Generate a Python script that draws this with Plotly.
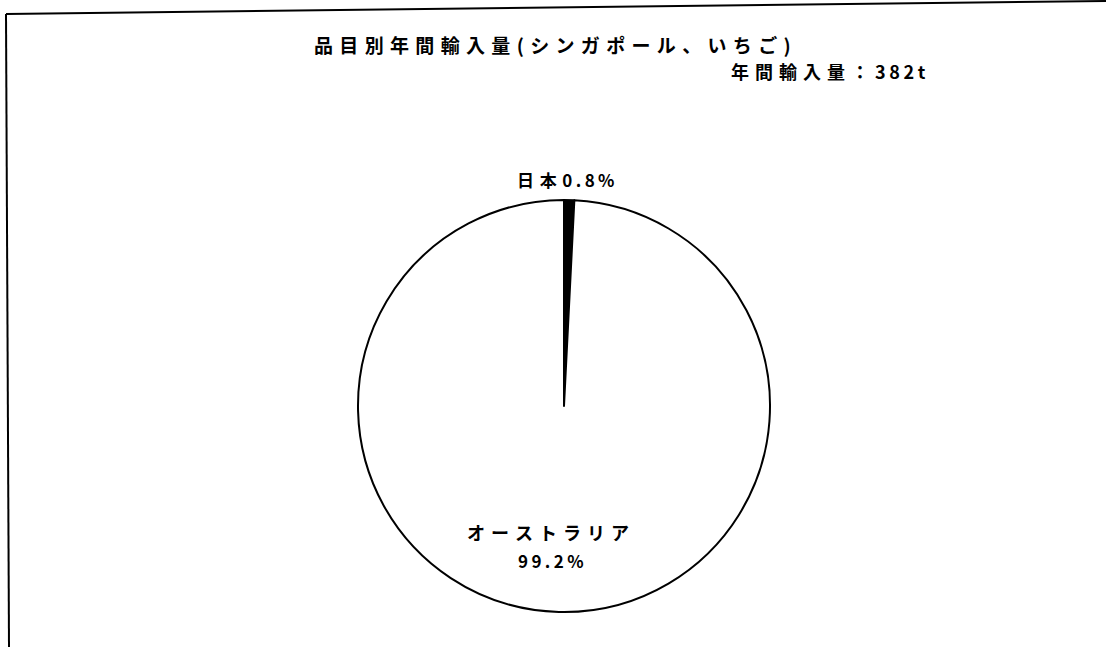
import plotly.graph_objects as go

countries = ["日本", "オーストラリア"]
shares = [0.8, 99.2]
slice_colors = ["#000000", "#ffffff"]

title_text = "品目別年間輸入量(シンガポール、いちご)"
total_text = "年間輸入量：382t"

font_jp = "Noto Sans CJK JP, Noto Sans, sans-serif"


def spaced(s):
    # the scanned chart uses wide letter spacing, tighter between half-width chars
    out = s[0]
    for a, b in zip(s, s[1:]):
        out += ("\u2009" if a.isascii() and b.isascii() else "\u2004") + b
    return out


fig = go.Figure()
fig.add_trace(go.Pie(
    labels=countries,
    values=shares,
    sort=False,
    direction="clockwise",
    rotation=0,
    marker=dict(colors=slice_colors, line=dict(color="#000000", width=2)),
    textinfo="none",
    hoverinfo="label+percent",
    showlegend=False,
    domain=dict(x=[358 / 1106, 770 / 1106], y=[1 - 612 / 647, 1 - 200 / 647]),
))


def note(x, y, text, size, xanchor="center"):
    fig.add_annotation(x=x / 1106, y=1 - y / 647, xref="paper", yref="paper",
                       xanchor=xanchor, yanchor="middle",
                       text=f"<b>{text}</b>", showarrow=False,
                       font=dict(family=font_jp, size=size, color="#000"))


# slice labels
note(566, 179, spaced(f"{countries[0]}{shares[0]:.1f}%"), 17)
note(548, 532, spaced(countries[1]), 18)
note(551, 560, spaced(f"{shares[1]:.1f}%"), 17)

# titles
note(552, 44, spaced(title_text), 19)
note(928, 71, spaced(total_text), 18, xanchor="right")

# scanned frame edges
fig.add_shape(type="line", xref="paper", yref="paper",
              x0=6 / 1106, y0=1 - 14 / 647, x1=1106 / 1106, y1=1 - 1 / 647,
              line=dict(color="#000", width=2))
fig.add_shape(type="line", xref="paper", yref="paper",
              x0=6 / 1106, y0=1 - 14 / 647, x1=9 / 1106, y1=0,
              line=dict(color="#000", width=2))

fig.update_layout(
    width=1106,
    height=647,
    margin=dict(l=0, r=0, t=0, b=0),
    paper_bgcolor="#ffffff",
    plot_bgcolor="#ffffff",
)

fig.write_html("out.html", config={"displayModeBar": False},
               post_script="document.body.style.margin='0';")
